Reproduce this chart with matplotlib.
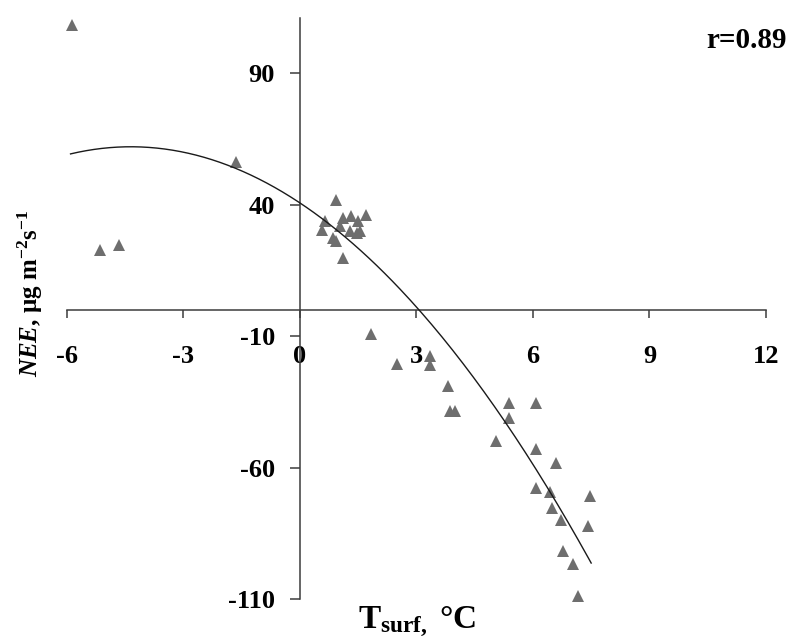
import numpy as np
import matplotlib
matplotlib.use('Agg')
import matplotlib.pyplot as plt

plt.rcParams['font.family'] = ['Liberation Serif', 'DejaVu Serif']
plt.rcParams['font.weight'] = 'bold'
plt.rcParams['axes.unicode_minus'] = False
plt.rcParams['mathtext.fontset'] = 'custom'
plt.rcParams['mathtext.rm'] = 'Liberation Serif:bold'
plt.rcParams['mathtext.bf'] = 'Liberation Serif:bold'
plt.rcParams['mathtext.it'] = 'Liberation Serif:bold:italic'

# surface temperature (C) and NEE values
tsurf = [-5.87, -5.14, -4.65, -1.65,
         0.94, 0.64, 0.56, 0.86, 0.94, 1.11, 1.33, 1.50, 1.71, 1.29, 1.46, 1.11, 1.03, 1.54,
         1.84, 2.49, 3.34, 3.34, 3.81, 3.86, 3.99,
         5.38, 6.09, 5.38, 5.04, 6.09, 6.60, 6.07, 6.45, 7.46,
         6.49, 6.72, 7.41, 6.77, 7.03, 7.16]
nee = [108.4, 22.9, 24.8, 56.1,
       41.9, 33.7, 30.5, 27.4, 26.1, 35.0, 35.6, 33.7, 36.2, 29.9, 29.3, 19.8, 31.8, 29.9,
       -9.3, -20.7, -17.6, -21.1, -29.0, -38.4, -38.4,
       -35.3, -35.3, -41.0, -49.8, -53.0, -58.3, -67.9, -69.4, -70.7,
       -75.5, -79.8, -82.4, -91.6, -96.7, -108.7]

# quadratic trend line coefficients (a, b, c) estimated from the drawn curve
trend_coef = [-1.128, -9.81, 40.7]
trend_range = (-5.9, 7.5)

xticks = [-6, -3, 0, 3, 6, 9, 12]
yticks = [-110, -60, -10, 40, 90]

fig = plt.figure(figsize=(7.88, 6.44), dpi=100)
ax = fig.add_axes([0.0846, 0.0699, 0.8875, 0.9021])

ax.plot(tsurf, nee, linestyle='none', marker='^', ms=8.5, color='#6e6e6e',
        markeredgewidth=0, clip_on=False, zorder=3)

xs = np.linspace(trend_range[0], trend_range[1], 200)
ax.plot(xs, np.polyval(trend_coef, xs), color='#1a1a1a', lw=1.0, zorder=4)

ax.set_xlim(-6, 12)
ax.set_ylim(-110, 111)

for side in ['top', 'right']:
    ax.spines[side].set_visible(False)
ax.spines['left'].set_position(('data', 0))
ax.spines['bottom'].set_position(('data', 0))
for side in ['left', 'bottom']:
    ax.spines[side].set_color('#3c3c3c')
    ax.spines[side].set_linewidth(1.1)

ax.set_xticks(xticks)
ax.set_yticks(yticks)
ax.tick_params(axis='x', direction='out', length=6, width=1.1, color='#3c3c3c',
               pad=19, labelsize=19)
ax.tick_params(axis='y', direction='out', length=7, width=1.1, color='#3c3c3c',
               pad=11, labelsize=19)
for lab in ax.get_xticklabels() + ax.get_yticklabels():
    lab.set_fontweight('bold')

fig.text(0.038, 0.545, r'$\mathit{NEE}$, μg m$^{-2}$s$^{-1}$', rotation=90,
         ha='center', va='center', fontsize=18, fontweight='bold')
fig.text(0.529, 0.024, r'T$_{\mathrm{surf,}}$ °C', ha='center', va='baseline',
         fontsize=24, fontweight='bold')
fig.text(0.999, 0.937, 'r=0.89', ha='right', va='center', fontsize=21,
         fontweight='bold')

fig.savefig('out.png', dpi=100)
